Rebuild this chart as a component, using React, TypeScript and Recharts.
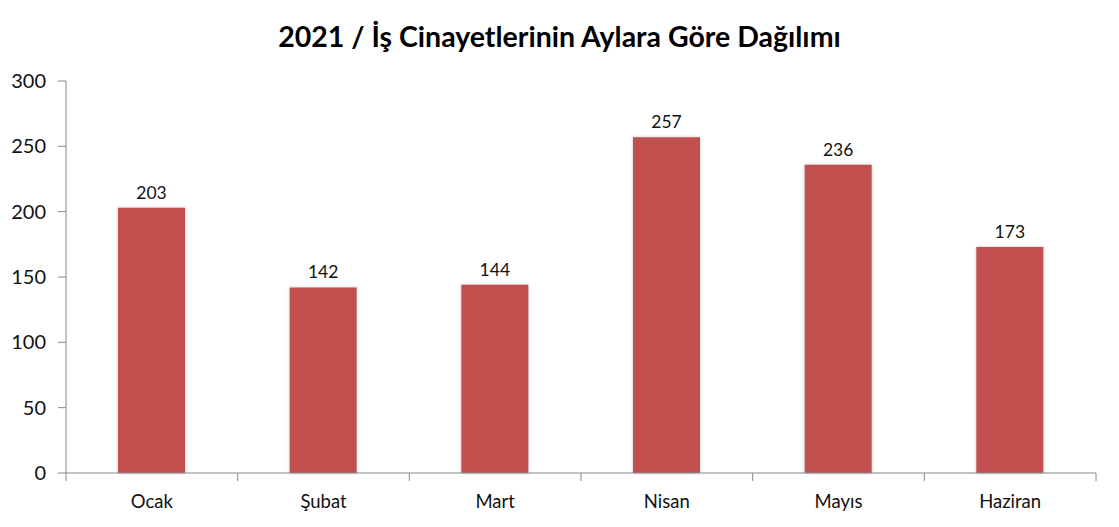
import React from 'react';
import { BarChart, Bar, XAxis, YAxis, LabelList } from 'recharts';

const months = ['Ocak', 'Şubat', 'Mart', 'Nisan', 'Mayıs', 'Haziran'];
const deaths = [203, 142, 144, 257, 236, 173];
const yTicks = [0, 50, 100, 150, 200, 250, 300];
const title = '2021 / İş Cinayetlerinin Aylara Göre Dağılımı';

const data = months.map((m, i) => ({ month: m, value: deaths[i] }));

const W = 1119;
const H = 527;
const M = { top: 81, right: 23, left: 0, bottom: 0 };
const Y_W = 66;
const X_H = 54;
const TICK_SIZE = 8;
const TICK_MARGIN = 14;
const FONT = 'Lato, "Open Sans", sans-serif';
const AXIS = '#868686';

const plotW = W - M.left - M.right - Y_W;
const band = plotW / months.length;

const XTick = (props: any) => {
  const { x, y, payload, index } = props;
  const half = payload && typeof payload.offset === 'number' && payload.offset > 0 ? payload.offset : band / 2;
  const y0 = y - TICK_MARGIN - TICK_SIZE;
  const isLast = index === months.length - 1;
  return (
    <g>
      <line x1={x - half} x2={x - half} y1={y0} y2={y0 + TICK_SIZE} stroke={AXIS} />
      {isLast && <line x1={x + half} x2={x + half} y1={y0} y2={y0 + TICK_SIZE} stroke={AXIS} />}
      <text x={x} y={y} dy="0.71em" textAnchor="middle" fill="#111" fontSize={18.5} fontFamily={FONT}>
        {payload.value}
      </text>
    </g>
  );
};

export default function App() {
  return (
    <div style={{ position: 'absolute', left: 0, top: 0, width: W, height: H, background: '#fff' }}>
      <div
        style={{
          position: 'absolute',
          left: 0,
          top: 19,
          width: W,
          textAlign: 'center',
          fontFamily: FONT,
          fontWeight: 700,
          fontSize: 28.5,
          color: '#000',
          lineHeight: '34px',
        }}
      >
        {title}
      </div>
      <BarChart width={W} height={H} data={data} margin={M} barCategoryGap="30%">
        <defs>
          <filter id="barShadow" x="-20%" y="-20%" width="140%" height="140%">
            <feDropShadow dx="0" dy="0" stdDeviation="1.5" floodColor="#999" floodOpacity="0.6" />
          </filter>
        </defs>
        <YAxis
          width={Y_W}
          domain={[0, 300]}
          ticks={yTicks}
          interval={0}
          tickSize={TICK_SIZE}
          tickMargin={12}
          axisLine={{ stroke: AXIS }}
          tickLine={{ stroke: AXIS }}
          tick={{ fill: '#111', fontSize: 20, fontFamily: FONT }}
        />
        <XAxis
          dataKey="month"
          height={X_H}
          interval={0}
          tickSize={TICK_SIZE}
          tickMargin={TICK_MARGIN}
          axisLine={{ stroke: AXIS }}
          tickLine={false}
          tick={<XTick />}
        />
        <Bar dataKey="value" fill="#C0504D" barSize={67} isAnimationActive={false} filter="url(#barShadow)">
          <LabelList dataKey="value" position="top" offset={9} fill="#111" fontSize={17.5} fontFamily={FONT} />
        </Bar>
      </BarChart>
    </div>
  );
}
